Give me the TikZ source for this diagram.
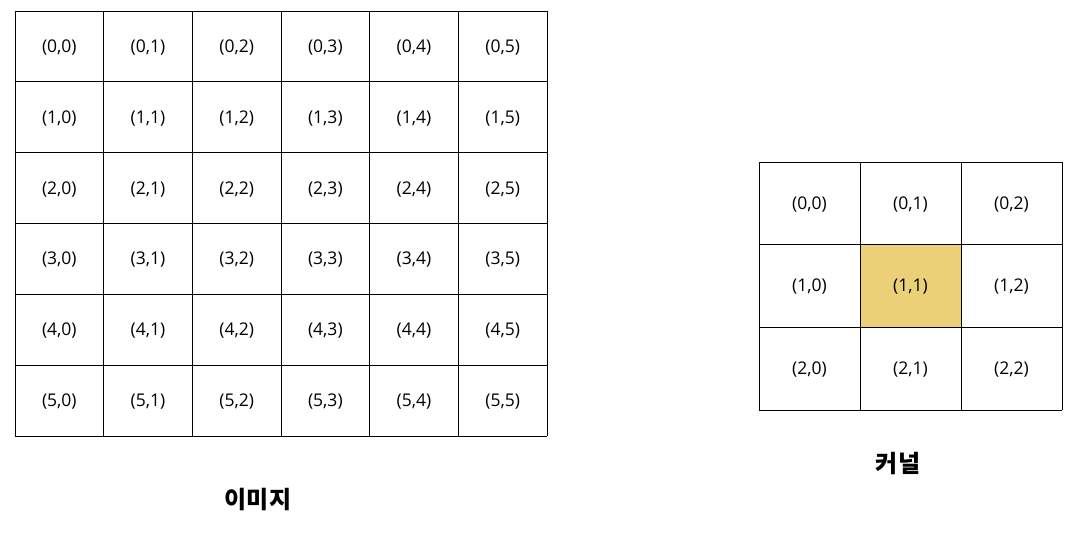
\documentclass[tikz,border=0pt]{standalone}
\usepackage{fontspec}
\setmainfont{Open Sans}
\newfontfamily\krfont{Noto Sans CJK KR}
\begin{document}
\begin{tikzpicture}[x=1pt,y=-1pt,
    celltext/.style={font=\fontsize{17.5}{20}\selectfont},
    gridline/.style={line width=0.9pt,black},
    caption/.style={font=\krfont\bfseries\fontsize{24}{28}\selectfont}]
    \useasboundingbox (0,0) rectangle (1084,535);
    \def\cw{88.67} \def\ch{70.83} % image cells
    \def\kw{101} \def\kh{82.67} % kernel cells
    % image
    \foreach \r in {0,...,5}
        \foreach \c in {0,...,5}
            \node[celltext] (img-\r-\c) at (15+\c*\cw+\cw/2,12+\r*\ch+\ch/2) {(\r,\c)};
    \foreach \i in {0,...,6} {
        \draw[gridline] (15+\i*\cw,11)--(15+\i*\cw,436);
        \draw[gridline] (15,11+\i*\ch)--(547,11+\i*\ch);
    }
    \node[caption] (imgcap) at (258,500) {이미지};
    % kernel
    \fill[color={rgb,255:red,235;green,208;blue,120}] (759+\kw,162+\kh) rectangle (759+2*\kw,162+2*\kh);
    \foreach \r in {0,...,2}
        \foreach \c in {0,...,2}
            \node[celltext] (ker-\r-\c) at (759+\c*\kw+\kw/2,163+\r*\kh+\kh/2) {(\r,\c)};
    \foreach \i in {0,...,3} {
        \draw[gridline] (759+\i*\kw,162)--(759+\i*\kw,410);
        \draw[gridline] (759,162+\i*\kh)--(1062,162+\i*\kh);
    }
    \node[caption] (kercap) at (898,464) {커널};
\end{tikzpicture}
\end{document}
